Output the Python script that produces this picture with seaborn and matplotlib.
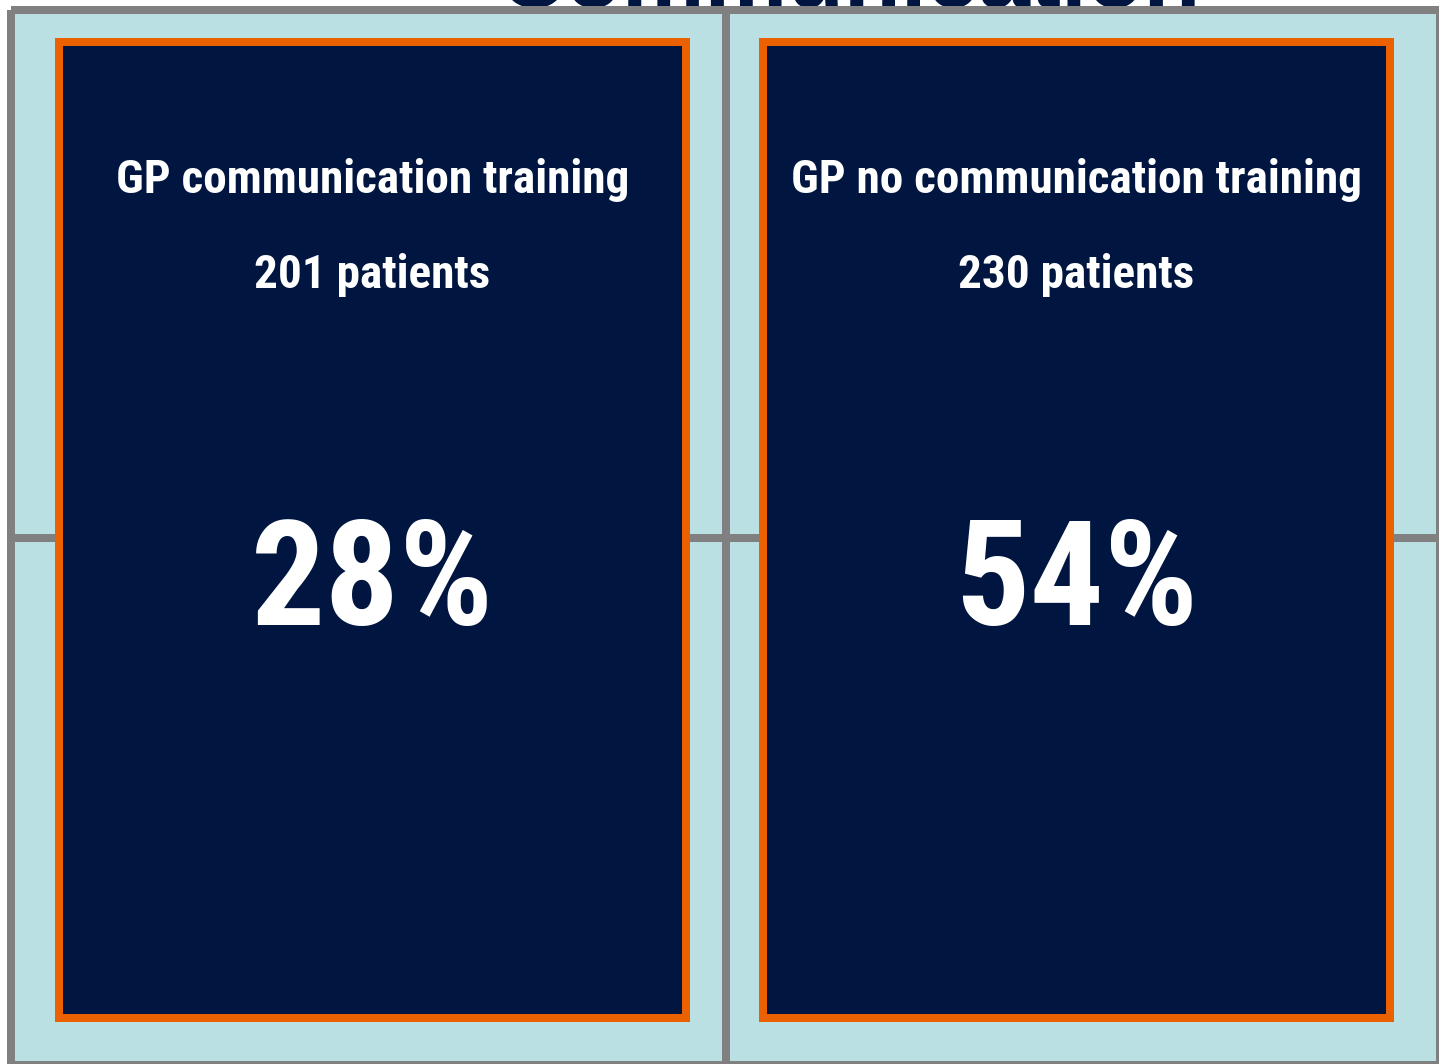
import matplotlib

matplotlib.use("Agg")
import matplotlib.pyplot as plt
import numpy as np
import seaborn as sns
from matplotlib.colors import ListedColormap

# data
groups = ["GP communication training", "GP no communication training"]
patients = [201, 230]
percent = [28, 54]
panel_height = [1.0, 1.0]
grid = np.ones((2, 2))
title = "Communication"

NAVY = "#001641"
ORANGE = "#EB6100"
LIGHT = "#BBE0E3"
GRAY = "#808080"
FONTS = ["Roboto Condensed", "Liberation Sans Narrow", "Liberation Sans", "DejaVu Sans"]

sns.set_style("white")
plt.rcParams["font.family"] = FONTS

W, H = 1439, 1064
fig = plt.figure(figsize=(W / 100, H / 100), dpi=100, facecolor="white")

# big title, mostly hidden behind the panels
fig.text(849.5 / W, 1 - 7 / H, title, ha="center", va="baseline", fontsize=67,
         fontweight="bold", color=NAVY, family=["Liberation Sans", "DejaVu Sans"], zorder=-1)

# light blue 2x2 background grid
ax_bg = fig.add_axes([11 / W, -1 / H, 1429 / W, 1055 / H])
sns.heatmap(grid, cmap=ListedColormap([LIGHT]), linewidths=5.76, linecolor=GRAY,
            cbar=False, xticklabels=False, yticklabels=False, ax=ax_bg)
ax_bg.collections[0].set_clip_on(False)

# navy panels with orange border
ax = fig.add_axes([0, 0, 1, 1])
ax.patch.set_visible(False)
sns.barplot(x=groups, y=panel_height, color=NAVY, saturation=1, width=0.8906,
            edgecolor=ORANGE, linewidth=5.76, ax=ax)
ax.set_xlim(-0.5291, 1.5149)
ax.set_ylim(-0.04713, 1.04303)
ax.axis("off")

for i, (g, n, p) in enumerate(zip(groups, patients, percent)):
    ax.text(i, 0.8453, g, ha="center", va="baseline", color="white",
            fontsize=34, fontweight="bold")
    ax.text(i, 0.748, f"{n} patients", ha="center", va="baseline", color="white",
            fontsize=34, fontweight="bold")
    ax.text(i, 0.4027, f"{p}%", ha="center", va="baseline", color="white",
            fontsize=106, fontweight="bold")

fig.savefig("out.png", dpi=100)
